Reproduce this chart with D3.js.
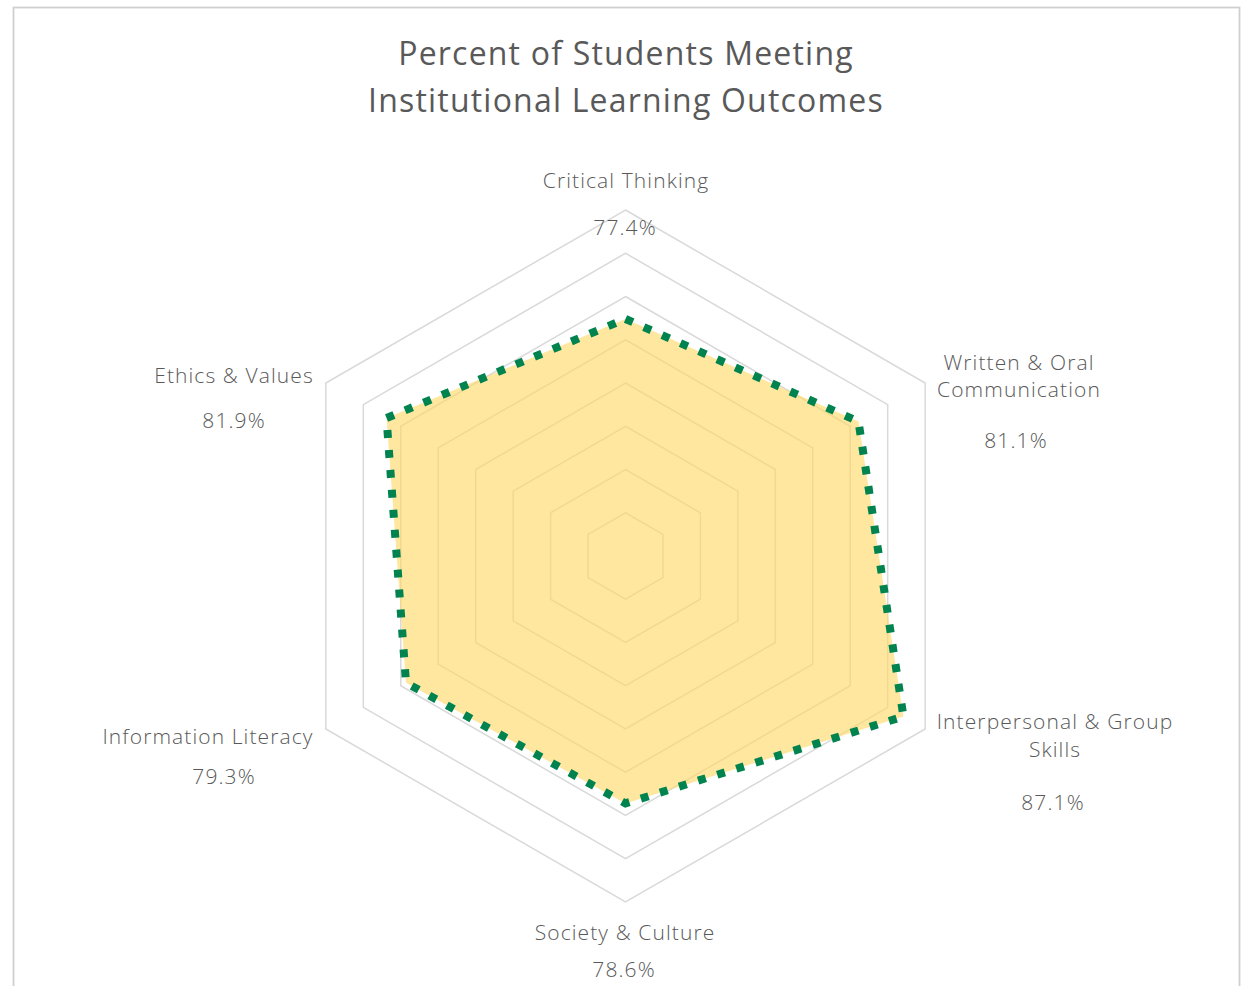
<!DOCTYPE html>
<html><head><meta charset="utf-8">
<script src="https://cdn.jsdelivr.net/npm/d3@7"></script>
<style>body{margin:0;background:#fff;} svg{display:block;}</style>
</head><body>
<svg id="chart" width="1247" height="986"></svg>
<script>
// ---- data ----
const titleLines = ["Percent of Students Meeting", "Institutional Learning Outcomes"];
const categories = ["Critical Thinking", "Written & Oral Communication", "Interpersonal & Group Skills", "Society & Culture", "Information Literacy", "Ethics & Values"];
const categoryLines = [["Critical Thinking"], ["Written & Oral", "Communication"], ["Interpersonal & Group", "Skills"], ["Society & Culture"], ["Information Literacy"], ["Ethics & Values"]];
const values = [0.774, 0.811, 0.871, 0.786, 0.793, 0.819];
const ringTicks = [0.55, 0.60, 0.65, 0.70, 0.75, 0.80, 0.85, 0.90];

// ---- layout ----
const W = 1247, H = 986;
const cx = 625.5, cy = 556, R = 346;
const font = "'Open Sans', Lato, sans-serif";
const textColor = "#595959";
// label anchor offsets (relative to centre): name baseline, line step, value baseline
const labelLayout = [
  {nx: 0.5, ny: -368, step: 0, vx: -0.5, vy: -321},
  {nx: 393.5, ny: -186, step: 27, vx: 390.5, vy: -108},
  {nx: 429.5, ny: 173, step: 28, vx: 427.5, vy: 254},
  {nx: -0.5, ny: 384, step: 0, vx: -1.5, vy: 421},
  {nx: -417.5, ny: 188, step: 0, vx: -401.5, vy: 228},
  {nx: -391.5, ny: -173, step: 0, vx: -391.5, vy: -128}
];

const svg = d3.select("#chart");

// chart border
svg.append("rect")
  .attr("x", 13.5).attr("y", 7.5)
  .attr("width", 1226).attr("height", H + 20)
  .attr("fill", "#fff")
  .attr("stroke", "#d0d0d0").attr("stroke-width", 1.8);

// title
svg.append("g").selectAll("text").data(titleLines).join("text")
  .attr("x", 626).attr("y", (d, i) => 65 + i * 47)
  .attr("text-anchor", "middle")
  .attr("font-family", font).attr("font-size", 32)
  .attr("letter-spacing", 1.2)
  .attr("fill", textColor)
  .text(d => d);

const rScale = d3.scaleLinear().domain([0.5, 0.9]).range([0, R]);
const aScale = d3.scaleLinear().domain([0, categories.length]).range([0, 2 * Math.PI]);

const g = svg.append("g").attr("transform", `translate(${cx},${cy})`);

const radial = d3.lineRadial()
  .angle((d, i) => aScale(i))
  .curve(d3.curveLinearClosed);

// grid rings
g.append("g").selectAll("path").data(ringTicks).join("path")
  .attr("d", t => radial.radius(() => rScale(t))(categories))
  .attr("fill", "none")
  .attr("stroke", "#d9d9d9").attr("stroke-width", 1.5);

// series area
const seriesLine = d3.lineRadial()
  .angle((d, i) => aScale(i))
  .radius(d => rScale(d))
  .curve(d3.curveLinearClosed);

g.append("path")
  .attr("d", seriesLine(values))
  .attr("fill", "#ffd966").attr("fill-opacity", 0.62)
  .attr("stroke", "none");

g.append("path")
  .attr("d", seriesLine(values))
  .attr("fill", "none")
  .attr("stroke", "#00834f").attr("stroke-width", 8)
  .attr("stroke-dasharray", "8 12")
  .attr("stroke-linejoin", "miter");

// category labels
const lab = g.append("g").attr("font-family", font).attr("fill", textColor)
  .attr("font-size", 21).attr("font-weight", 300).attr("letter-spacing", 1.1);
categories.forEach((c, i) => {
  const L = labelLayout[i];
  const t = lab.append("text").attr("text-anchor", "middle");
  categoryLines[i].forEach((line, j) => {
    t.append("tspan").attr("x", L.nx).attr("y", L.ny + j * L.step).text(line);
  });
  lab.append("text").attr("text-anchor", "middle")
    .attr("x", L.vx).attr("y", L.vy)
    .text(d3.format(".1%")(values[i]));
});
</script>
</body></html>
